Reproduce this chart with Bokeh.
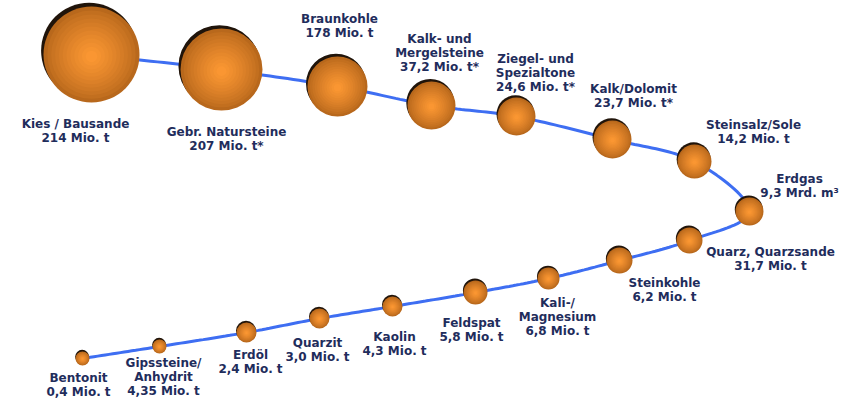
from bokeh.plotting import figure
from bokeh.models import Range1d
from bokeh.embed import file_html
from bokeh.resources import INLINE
from bokeh.core.properties import value
import numpy as np

# ---- data ----
names = ["Kies / Bausande", "Gebr. Natursteine", "Braunkohle", "Kalk- und\nMergelsteine",
         "Ziegel- und\nSpezialtone", "Kalk/Dolomit", "Steinsalz/Sole", "Erdgas",
         "Quarz, Quarzsande", "Steinkohle", "Kali-/\nMagnesium", "Feldspat", "Kaolin",
         "Quarzit", "Erdöl", "Gipssteine/\nAnhydrit", "Bentonit"]
amounts = ["214 Mio. t", "207 Mio. t*", "178 Mio. t", "37,2 Mio. t*", "24,6 Mio. t*",
           "23,7 Mio. t*", "14,2 Mio. t", "9,3 Mrd. m³", "31,7 Mio. t", "6,2 Mio. t",
           "6,8 Mio. t", "5,8 Mio. t", "4,3 Mio. t", "3,0 Mio. t", "2,4 Mio. t",
           "4,35 Mio. t", "0,4 Mio. t"]

# ---- layout (diagram coordinates) ----
bubble_x = [91, 221, 337, 431, 516, 612, 694, 749, 689, 619, 548, 475, 392, 319, 246, 159, 82]
bubble_y = [54, 69, 86, 105, 116, 139, 161, 211, 240, 260, 278, 292, 306, 318, 332, 346, 358]
bubble_r = [48, 41, 30, 24, 19, 19, 17, 14, 13, 13, 11, 12, 10, 10, 10, 7, 7]
label_x = [75, 226, 339, 439, 535, 633, 753, 799, 770, 664, 557, 471, 394, 317, 250, 163, 78]
label_y = [123, 131, 18.5, 38, 58, 88, 124, 178, 251, 282, 302, 322, 336, 342, 354, 362, 377]

W, H = 852, 398
p = figure(width=W, height=H, output_backend="svg", toolbar_location=None,
           x_range=Range1d(0, W), y_range=Range1d(H, 0), min_border=0)
p.axis.visible = False
p.grid.visible = False
p.outline_line_color = None
p.background_fill_color = "white"
p.border_fill_color = "white"

# connecting smooth path (Catmull-Rom through bubble centres)
pts = np.array(list(zip(bubble_x, bubble_y)), dtype=float)
ext = np.vstack([2 * pts[0] - pts[1], pts, 2 * pts[-1] - pts[-2]])
lx, ly = [], []
for i in range(1, len(ext) - 2):
    p0, p1, p2, p3 = ext[i - 1], ext[i], ext[i + 1], ext[i + 2]
    for t in np.linspace(0, 1, 20, endpoint=False):
        t2, t3 = t * t, t * t * t
        q = 0.5 * ((2 * p1) + (-p0 + p2) * t + (2 * p0 - 5 * p1 + 4 * p2 - p3) * t2
                   + (-p0 + 3 * p1 - 3 * p2 + p3) * t3)
        lx.append(q[0]); ly.append(q[1])
lx.append(pts[-1][0]); ly.append(pts[-1][1])
p.line(lx, ly, line_color="#3e6ef2", line_width=3)

# spheres
bx = np.array(bubble_x, float); by = np.array(bubble_y, float); br = np.array(bubble_r, float)
p.circle(bx - 0.05 * br, by - (0.05 * br + 1.3), radius=br, fill_color="#20140a", line_color=None)
edge = np.array([0xB8, 0x68, 0x1C]); centre = np.array([0xFA, 0x96, 0x32])
N = 12
for k in range(N):
    f = k / (N - 1)
    c = edge + (centre - edge) * (f ** 0.8)
    col = "#%02x%02x%02x" % tuple(int(round(v)) for v in c)
    rr = br * (1 - 0.88 * f)
    p.circle(bx, by + 0.04 * br * f, radius=rr, fill_color=col, line_color=None)

# labels
tx, ty, tt = [], [], []
for n, a, x0, y0 in zip(names, amounts, label_x, label_y):
    lines = n.split("\n") + [a]
    for i, s in enumerate(lines):
        tx.append(x0); ty.append(y0 + i * 14.0); tt.append(s)
p.text(tx, ty, text=tt, text_align="center", text_baseline="middle",
       text_font=value("DejaVu Sans"), text_font_style="bold",
       text_font_size="12px", text_color="#1f2d5c")

open("out.html", "w").write(file_html(p, INLINE))
